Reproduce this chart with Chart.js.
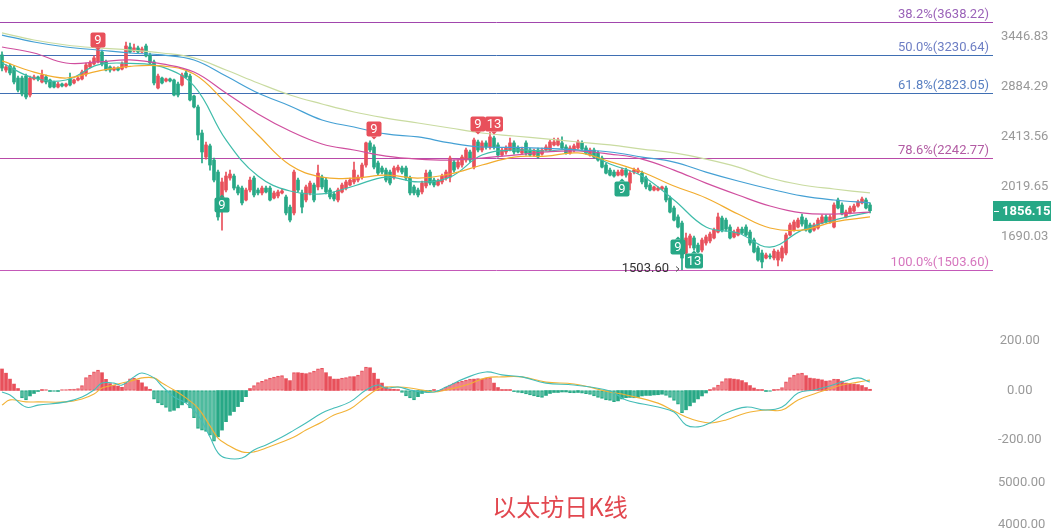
<!DOCTYPE html>
<html>
<head>
<meta charset="utf-8">
<script src="https://cdn.jsdelivr.net/npm/chart.js@4.4.0/dist/chart.umd.min.js"></script>
<style>
  html, body { margin: 0; padding: 0; background: #fff; }
  body { width: 1051px; height: 529px; position: relative; overflow: hidden; }
  .pane { position: absolute; left: 0; width: 1051px; }
  #title {
    position: absolute; left: 460px; top: 493px; width: 200px; text-align: center;
    font: 24px/26px "Noto Sans CJK SC", sans-serif; color: #e2474f;
  }
</style>
</head>
<body>
<div class="pane" style="top:0;height:300px"><canvas id="priceChart"></canvas></div>
<div class="pane" style="top:310px;height:160px"><canvas id="macdChart"></canvas></div>
<div class="pane" style="top:470px;height:59px"><canvas id="volChart"></canvas></div>
<div id="title">以太坊日K线</div>
<script>
// daily candles, oldest first
const opens = [
  3233, 3064, 3109, 3086, 2978, 2978, 2999, 2803, 2968, 2989,
  2936, 2989, 2957, 2936, 2884, 2915, 2895, 2968, 2926, 2957,
  2968, 3021, 3098, 3131, 3154, 3268, 3154, 3098, 3064, 3086,
  3075, 3098, 3326, 3279, 3315, 3268, 3338, 3233, 3154, 2874,
  2978, 2947, 2968, 2957, 2915, 2905, 3032, 2999, 2793, 2686,
  2448, 2247, 2338, 2223, 2130, 1874, 1998, 2085, 2100, 2020,
  2012, 1928, 1998, 2085, 1998, 1977, 2012, 2012, 1942, 1956,
  1977, 1949, 1880, 1841, 2070, 1977, 1928, 1977, 2034, 2020,
  2092, 2070, 1998, 1970, 1928, 1984, 2012, 2034, 2056, 2070,
  2092, 2184, 2363, 2329, 2200, 2161, 2145, 2130, 2092, 2145,
  2161, 2161, 2085, 2020, 1998, 1984, 2027, 2130, 2070, 2034,
  2056, 2085, 2092, 2207, 2168, 2184, 2223, 2288, 2168, 2371,
  2304, 2363, 2329, 2405, 2346, 2263, 2288, 2304, 2363, 2321,
  2280, 2363, 2304, 2263, 2304, 2271, 2304, 2304, 2346, 2346,
  2363, 2329, 2280, 2304, 2321, 2363, 2321, 2263, 2304, 2280,
  2239, 2184, 2145, 2130, 2107, 2107, 2145, 2048, 2130, 2130,
  2122, 2085, 2034, 1998, 1998, 2005, 2012, 1942, 1874, 1815,
  1776, 1596, 1642, 1684, 1642, 1613, 1654, 1666, 1684, 1720,
  1808, 1795, 1751, 1690, 1702, 1738, 1751, 1720, 1672, 1625,
  1596, 1568, 1579, 1568, 1557, 1568, 1596, 1702, 1732, 1751,
  1815, 1795, 1764, 1732, 1745, 1776, 1815, 1783, 1751, 1928,
  1894, 1815, 1841, 1854, 1887, 1908, 1928, 1894
];
const highs = [
  3268, 3120, 3131, 3109, 2999, 2999, 3021, 2999, 3010, 2999,
  3064, 3010, 2968, 2947, 2936, 2926, 2926, 3032, 2968, 2989,
  3064, 3142, 3165, 3222, 3326, 3291, 3176, 3109, 3098, 3098,
  3154, 3386, 3374, 3362, 3338, 3326, 3362, 3256, 3176, 3021,
  2989, 2978, 2978, 2968, 2936, 3032, 3053, 3021, 2803, 2705,
  2474, 2371, 2354, 2239, 2145, 2085, 2130, 2145, 2115, 2034,
  2027, 2012, 2092, 2100, 2012, 2027, 2027, 2027, 1991, 1998,
  2005, 1963, 1894, 2145, 2085, 1998, 2034, 2063, 2048, 2184,
  2107, 2085, 2012, 1984, 2012, 2048, 2070, 2085, 2207, 2107,
  2200, 2371, 2380, 2346, 2215, 2176, 2161, 2145, 2176, 2184,
  2176, 2176, 2100, 2034, 2012, 2063, 2145, 2145, 2085, 2077,
  2115, 2145, 2255, 2223, 2223, 2263, 2321, 2304, 2405, 2388,
  2380, 2380, 2457, 2422, 2363, 2321, 2338, 2405, 2380, 2338,
  2329, 2380, 2321, 2312, 2321, 2321, 2346, 2388, 2405, 2405,
  2414, 2346, 2338, 2354, 2388, 2380, 2338, 2321, 2321, 2296,
  2255, 2200, 2161, 2145, 2145, 2161, 2161, 2137, 2161, 2161,
  2137, 2100, 2048, 2027, 2020, 2027, 2027, 1956, 1887, 1828,
  1789, 1714, 1708, 1696, 1654, 1684, 1702, 1720, 1745, 1841,
  1821, 1808, 1764, 1732, 1751, 1751, 1764, 1732, 1684, 1636,
  1613, 1596, 1591, 1619, 1613, 1636, 1714, 1776, 1795, 1808,
  1834, 1808, 1776, 1776, 1808, 1828, 1828, 1828, 1908, 1942,
  1908, 1860, 1887, 1901, 1928, 1949, 1942, 1908
];
const lows = [
  3053, 3042, 3010, 2915, 2833, 2793, 2764, 2783, 2957, 2947,
  2926, 2915, 2874, 2874, 2874, 2884, 2884, 2895, 2915, 2947,
  2957, 2999, 3086, 3120, 3142, 3109, 3053, 3042, 3053, 3053,
  3064, 3086, 3256, 3268, 3256, 3256, 3210, 3131, 2905, 2864,
  2915, 2936, 2936, 2793, 2783, 2895, 2978, 2744, 2676, 2388,
  2200, 2231, 2145, 2056, 1795, 1732, 1984, 2070, 1998, 1963,
  1894, 1921, 1984, 1949, 1963, 1963, 1977, 1921, 1935, 1942,
  1970, 1828, 1783, 1828, 1984, 1841, 1915, 1963, 1915, 1998,
  2005, 1970, 1935, 1921, 1915, 1977, 1998, 2027, 2041, 2056,
  2077, 2168, 2288, 2153, 2107, 2115, 2056, 2034, 2077, 2130,
  2115, 2070, 1963, 1963, 1949, 1970, 2012, 2034, 2020, 2027,
  2041, 2070, 2056, 2130, 2153, 2168, 2207, 2207, 2153, 2288,
  2288, 2312, 2312, 2312, 2247, 2255, 2271, 2296, 2271, 2280,
  2271, 2263, 2255, 2255, 2239, 2263, 2296, 2296, 2338, 2338,
  2312, 2271, 2271, 2288, 2312, 2304, 2271, 2255, 2239, 2215,
  2161, 2115, 2100, 2092, 2100, 2100, 2092, 1998, 2115, 2122,
  2041, 2005, 1991, 1991, 1991, 1998, 1915, 1841, 1789, 1745,
  1503.6, 1585, 1625, 1613, 1596, 1602, 1642, 1654, 1678, 1714,
  1720, 1726, 1678, 1684, 1696, 1708, 1696, 1642, 1596, 1551,
  1513, 1563, 1563, 1557, 1524, 1551, 1585, 1696, 1726, 1745,
  1757, 1726, 1714, 1726, 1738, 1770, 1776, 1776, 1745, 1867,
  1828, 1808, 1834, 1847, 1880, 1901, 1867, 1841
];
const closes = [
  3086, 3098, 3032, 2936, 2853, 2813, 2783, 2978, 2989, 2968,
  3010, 2936, 2884, 2884, 2915, 2895, 2915, 2905, 2957, 2978,
  3042, 3120, 3142, 3199, 3291, 3131, 3064, 3064, 3086, 3064,
  3131, 3338, 3268, 3315, 3268, 3303, 3222, 3142, 2926, 2999,
  2926, 2968, 2947, 2803, 2803, 3010, 2989, 2754, 2686, 2431,
  2288, 2346, 2184, 2070, 1815, 2056, 2100, 2115, 2012, 1977,
  1908, 1998, 2070, 1963, 1977, 2012, 1984, 1928, 1977, 1984,
  1991, 1841, 1795, 2130, 1998, 1880, 2020, 2048, 1928, 2122,
  2020, 1984, 1949, 1935, 1998, 2034, 2056, 2070, 2145, 2092,
  2184, 2363, 2304, 2168, 2122, 2130, 2070, 2048, 2161, 2168,
  2130, 2085, 1977, 1977, 1963, 2048, 2122, 2048, 2034, 2063,
  2100, 2130, 2239, 2145, 2207, 2247, 2304, 2223, 2388, 2304,
  2363, 2329, 2414, 2329, 2263, 2304, 2321, 2363, 2288, 2288,
  2312, 2280, 2263, 2296, 2247, 2304, 2329, 2371, 2371, 2388,
  2321, 2280, 2321, 2338, 2371, 2312, 2280, 2304, 2247, 2223,
  2168, 2122, 2107, 2100, 2130, 2145, 2107, 2122, 2145, 2145,
  2056, 2020, 1998, 2020, 2012, 2020, 1928, 1847, 1795, 1751,
  1568, 1684, 1696, 1625, 1602, 1672, 1690, 1708, 1732, 1815,
  1732, 1738, 1684, 1720, 1738, 1714, 1702, 1654, 1602, 1557,
  1546, 1585, 1574, 1607, 1602, 1625, 1702, 1764, 1783, 1795,
  1770, 1732, 1720, 1764, 1795, 1815, 1783, 1815, 1894, 1874,
  1834, 1847, 1874, 1887, 1915, 1935, 1874, 1856.15
];

// moving averages, read at these candle positions
const maIdx = [0, 8, 16, 24, 32, 40, 48, 56, 64, 72, 80, 88, 96, 104, 112, 120, 128, 136, 144, 152, 160, 168, 176, 184, 192, 200, 208, 217];
const maTeal = [3142, 2978, 2957, 3120, 3137, 3098, 2895, 2388, 2100, 1991, 1970, 2027, 2092, 2056, 2092, 2263, 2304, 2296, 2304, 2192, 2100, 1928, 1751, 1714, 1630, 1732, 1795, 1847];
const maOrange = [3165, 3042, 2978, 3053, 3105, 3109, 3021, 2725, 2431, 2184, 2092, 2085, 2107, 2085, 2115, 2184, 2247, 2255, 2280, 2211, 2130, 2027, 1942, 1834, 1745, 1732, 1783, 1815];
const maPink = [3326, 3256, 3142, 3154, 3176, 3131, 3042, 2823, 2620, 2465, 2354, 2304, 2255, 2231, 2223, 2239, 2263, 2288, 2296, 2271, 2231, 2145, 2048, 1963, 1887, 1841, 1834, 1847];
const maBlue = [3471, 3386, 3326, 3291, 3256, 3233, 3176, 2999, 2823, 2696, 2564, 2501, 2440, 2414, 2363, 2329, 2325, 2317, 2304, 2288, 2247, 2207, 2130, 2063, 2005, 1956, 1928, 1908];
const maKhaki = [3497, 3410, 3350, 3315, 3291, 3256, 3199, 3064, 2926, 2803, 2715, 2638, 2582, 2537, 2492, 2448, 2422, 2397, 2371, 2346, 2312, 2280, 2231, 2168, 2085, 2034, 2005, 1977];

// fibonacci retracement levels
const fibLabels = ['38.2%', '50.0%', '61.8%', '78.6%', '100.0%'];
const fibLevels = [3638.22, 3230.64, 2823.05, 2242.77, 1503.60];

// price axis ticks
const priceTicks = [3446.83, 2884.29, 2413.56, 2019.65, 1690.03];

// TD sequential counts
const tdIdx = [24, 93, 119, 123, 55, 155, 169, 173];
const tdText = ['9', '9', '9', '13', '9', '9', '9', '13'];
const tdSide = ['up', 'up', 'up', 'up', 'down', 'down', 'down', 'down'];
const tdPrice = [3410, 2479, 2524, 2524, 1891, 2002, 1630, 1551];

// MACD histogram, one per candle
const macdHist = [
  87, 70, 46, 26, 8, -30, -38, -22, -12, -4,
  2, 3, -3, -4, -2, 3, 4, 5, 6, 8,
  20, 52, 62, 75, 83, 72, 45, 28, 20, 18,
  13, 32, 47, 50, 42, 31, 15, 5, -35, -50,
  -58, -68, -85, -80, -70, -58, -48, -70, -110, -153,
  -160, -165, -180, -205, -187, -160, -126, -100, -85, -65,
  -45, -25, 8, 20, 32, 37, 44, 50, 54, 58,
  60, 48, 40, 72, 72, 70, 68, 72, 78, 88,
  90, 72, 56, 46, 46, 50, 52, 56, 56, 62,
  80, 95, 92, 70, 46, 30, 14, 6, 5, 4,
  -8, -22, -30, -38, -25, -12, -3, -2, 1, -2,
  2, 14, 22, 30, 33, 38, 42, 46, 46, 48,
  46, 50, 52, 30, 12, 3, 3, 2, -5, -8,
  -10, -14, -18, -22, -25, -28, -20, -12, -8, -8,
  -6, -6, -9, -10, -8, -11, -13, -16, -22, -28,
  -32, -38, -40, -45, -42, -34, -29, -28, -30, -28,
  -22, -20, -20, -18, -17, -15, -20, -28, -40, -55,
  -90, -78, -62, -48, -34, -22, -10, 4, 12, 22,
  36, 48, 48, 46, 44, 40, 32, 20, 10, 4,
  2, -2, -3, 2, 5, 12, 35, 52, 62, 68,
  70, 60, 50, 48, 46, 43, 38, 40, 46, 45,
  38, 30, 28, 26, 24, 20, 12, 5
];
// DIF / DEA lines, read at these candle positions
const macdIdx = [0, 2, 6, 9, 16, 20, 23, 25, 28, 30, 33, 35, 38, 40, 43, 46, 49, 52, 54, 56, 60, 63, 66, 70, 73, 76, 80, 83, 87, 91, 94, 96, 99, 102, 105, 108, 111, 116, 121, 125, 130, 136, 143, 152, 156, 164, 168, 171, 174, 177, 181, 186, 191, 195, 199, 203, 206, 210, 214, 217];
const difLine = [-6, -18, -67, -59, -46, -26, 2, 30, 30, 22, 55, 71, 51, 18, -26, -51, -99, -188, -252, -273, -273, -240, -220, -188, -160, -131, -91, -71, -46, 2, 22, 10, 14, 2, -6, -6, 14, 51, 75, 63, 55, 30, 22, -2, -38, -67, -87, -139, -147, -131, -91, -67, -79, -67, -10, 2, 14, 34, 51, 34];
const deaLine = [-59, -38, -46, -46, -46, -34, -14, 10, 22, 30, 42, 51, 51, 30, 2, -30, -71, -143, -192, -216, -248, -248, -232, -208, -188, -160, -127, -99, -75, -26, 6, 14, 14, 10, 2, -6, 2, 22, 51, 55, 55, 34, 26, -6, -18, -51, -83, -107, -123, -131, -119, -91, -79, -79, -38, -14, 2, 22, 34, 42];
const macdTicks = [200, 0, -200];
const volTicks = [5000, 4000];

const RED = '#e8505b';
const GREEN = '#27a886';
const AXIS_W = 58;

Chart.defaults.font.family = 'Roboto, "Noto Sans", sans-serif';
Chart.defaults.animation = false;

const pts = (idx, vals) => idx.map((k, j) => ({ x: k, y: vals[j] }));

function sideAxis(ticks, min, max, pad, type) {
  return {
    type: type || 'linear', position: 'right', min, max, bounds: 'data', beginAtZero: false,
    grid: { display: false, drawTicks: false }, border: { display: false },
    ticks: {
      color: '#999', font: { size: 13 }, padding: pad, crossAlign: 'center', autoSkip: false,
      callback: (v) => Number(v).toFixed(2)
    },
    afterBuildTicks: (s) => { s.ticks = ticks.map((v) => ({ value: v })); },
    afterFit: (s) => { s.width = AXIS_W; s.paddingTop = 0; s.paddingBottom = 0; }
  };
}
const timeAxis = { type: 'linear', min: -0.5, max: 247.75, offset: false, display: false };

const baseOpts = {
  responsive: true, maintainAspectRatio: false,
  layout: { padding: 0 },
  plugins: { legend: { display: false }, tooltip: { enabled: false } },
  events: []
};

// candle colours: red rises, green falls
const candleCol = closes.map((c, i) => (c >= opens[i] ? RED : GREEN));

const overlay = {
  id: 'overlay',
  beforeDatasetsDraw(chart) {
    const { ctx, chartArea, scales: { y } } = chart;
    const lineCols = ['#a146ad', '#3f6fb3', '#3f6fb3', '#b94aa8', '#c459b8'];
    const textCols = ['#9a62b8', '#6d7ec4', '#5a80c2', '#b25ba3', '#d676be'];
    ctx.save();
    fibLevels.forEach((lv, k) => {
      const py = Math.round(y.getPixelForValue(lv)) + 0.5;
      ctx.strokeStyle = lineCols[k];
      ctx.lineWidth = 1;
      ctx.beginPath();
      ctx.moveTo(chartArea.left, py);
      ctx.lineTo(chartArea.right, py);
      ctx.stroke();
      ctx.fillStyle = textCols[k];
      ctx.font = '13px Roboto';
      ctx.textAlign = 'right';
      ctx.textBaseline = 'alphabetic';
      ctx.fillText(fibLabels[k] + '(' + lv.toFixed(2) + ')', chartArea.right - 4, py - 5);
    });
    ctx.restore();
  },
  afterDatasetsDraw(chart) {
    const { ctx, scales: { x, y } } = chart;
    ctx.save();
    tdIdx.forEach((k, j) => {
      const px = Math.round(x.getPixelForValue(k));
      const py = Math.round(y.getPixelForValue(tdPrice[j]));
      const up = tdSide[j] === 'up';
      const w = tdText[j].length > 1 ? 18 : 15;
      const h = 15;
      ctx.fillStyle = up ? RED : GREEN;
      ctx.beginPath();
      ctx.roundRect(px - w / 2, py - h / 2, w, h, 2);
      ctx.fill();
      ctx.beginPath();
      if (up) {
        ctx.moveTo(px - 3, py + h / 2); ctx.lineTo(px + 3, py + h / 2); ctx.lineTo(px, py + h / 2 + 3);
      } else {
        ctx.moveTo(px - 3, py - h / 2); ctx.lineTo(px + 3, py - h / 2); ctx.lineTo(px, py - h / 2 - 3);
      }
      ctx.fill();
      ctx.fillStyle = '#fff';
      ctx.font = '13px Roboto';
      ctx.textAlign = 'center';
      ctx.textBaseline = 'middle';
      ctx.fillText(tdText[j], px, py + 1);
    });

    // lowest low marker
    const lowVal = Math.min(...lows);
    const lowIdx = lows.indexOf(lowVal);
    const lx = x.getPixelForValue(lowIdx);
    const ly = Math.round(y.getPixelForValue(lowVal));
    ctx.fillStyle = '#333';
    ctx.font = '13px Roboto';
    ctx.textAlign = 'right';
    ctx.textBaseline = 'middle';
    ctx.fillText(lowVal.toFixed(2), lx - 13, ly - 1);
    ctx.strokeStyle = '#555';
    ctx.lineWidth = 1;
    ctx.beginPath();
    ctx.moveTo(lx - 6, ly - 3.5); ctx.lineTo(lx - 3, ly - 1); ctx.lineTo(lx - 6, ly + 1.5);
    ctx.stroke();
    ctx.restore();
  },
  afterDraw(chart) {
    const { ctx, chartArea, scales: { y } } = chart;
    const last = closes[closes.length - 1];
    const py = Math.round(y.getPixelForValue(last));
    ctx.save();
    ctx.fillStyle = GREEN;
    ctx.fillRect(chartArea.right, py - 10, chart.width - chartArea.right, 20);
    ctx.fillStyle = '#fff';
    ctx.fillRect(chartArea.right + 1, py, 5, 1);
    ctx.font = 'bold 13px Roboto';
    ctx.textAlign = 'left';
    ctx.textBaseline = 'middle';
    ctx.fillText(last.toFixed(2), chartArea.right + 9, py + 1);
    ctx.restore();
  }
};

new Chart(document.getElementById('priceChart'), {
  type: 'bar',
  data: {
    datasets: [
      { type: 'line', data: pts(maIdx, maKhaki), borderColor: '#c9dba0', borderWidth: 1.2, pointRadius: 0, tension: 0.4, order: 0 },
      { type: 'line', data: pts(maIdx, maBlue), borderColor: '#44a0d4', borderWidth: 1.2, pointRadius: 0, tension: 0.4, order: 0 },
      { type: 'line', data: pts(maIdx, maPink), borderColor: '#d04f9f', borderWidth: 1.2, pointRadius: 0, tension: 0.4, order: 0 },
      { type: 'line', data: pts(maIdx, maOrange), borderColor: '#f2ac2e', borderWidth: 1.2, pointRadius: 0, tension: 0.4, order: 0 },
      { type: 'line', data: pts(maIdx, maTeal), borderColor: '#3fbcaa', borderWidth: 1.2, pointRadius: 0, tension: 0.4, order: 0 },
      {
        data: closes.map((c, i) => ({ x: i, y: [opens[i], c] })),
        backgroundColor: candleCol, barThickness: 3, minBarLength: 1, grouped: false, order: 1
      },
      {
        data: closes.map((c, i) => ({ x: i, y: [lows[i], highs[i]] })),
        backgroundColor: candleCol, barThickness: 1, grouped: false, order: 2
      }
    ]
  },
  options: {
    ...baseOpts,
    scales: {
      x: timeAxis,
      y: sideAxis(priceTicks, 1350, 3932.7, 8, 'logarithmic')
    }
  },
  plugins: [overlay]
});

// MACD histogram: hollow while the bar grows, solid while it shrinks
const histGrow = macdHist.map((v, i) => i > 0 && Math.abs(v) > Math.abs(macdHist[i - 1]));
new Chart(document.getElementById('macdChart'), {
  type: 'bar',
  data: {
    datasets: [
      { type: 'line', data: pts(macdIdx, difLine), borderColor: '#45bdb8', borderWidth: 1.1, pointRadius: 0, tension: 0.4, order: 0 },
      { type: 'line', data: pts(macdIdx, deaLine), borderColor: '#f2b236', borderWidth: 1.1, pointRadius: 0, tension: 0.4, order: 0 },
      {
        data: macdHist.map((v, i) => ({ x: i, y: v })),
        backgroundColor: macdHist.map((v, i) => (histGrow[i] ? (v >= 0 ? 'rgba(244,150,160,0.55)' : 'rgba(90,200,170,0.35)') : (v >= 0 ? RED : GREEN))),
        borderColor: macdHist.map((v) => (v >= 0 ? RED : GREEN)),
        borderWidth: histGrow.map((g) => (g ? 1 : 0)),
        borderSkipped: false,
        barThickness: 3, minBarLength: 1, grouped: false, order: 1
      }
    ]
  },
  options: {
    ...baseOpts,
    scales: {
      x: timeAxis,
      y: sideAxis(macdTicks, -321.2, 325.3, 5)
    }
  }
});

new Chart(document.getElementById('volChart'), {
  type: 'bar',
  data: { datasets: [] },
  options: {
    ...baseOpts,
    scales: {
      x: timeAxis,
      y: sideAxis(volTicks, 3904.8, 5309.5, 5)
    }
  }
});
</script>
</body>
</html>
